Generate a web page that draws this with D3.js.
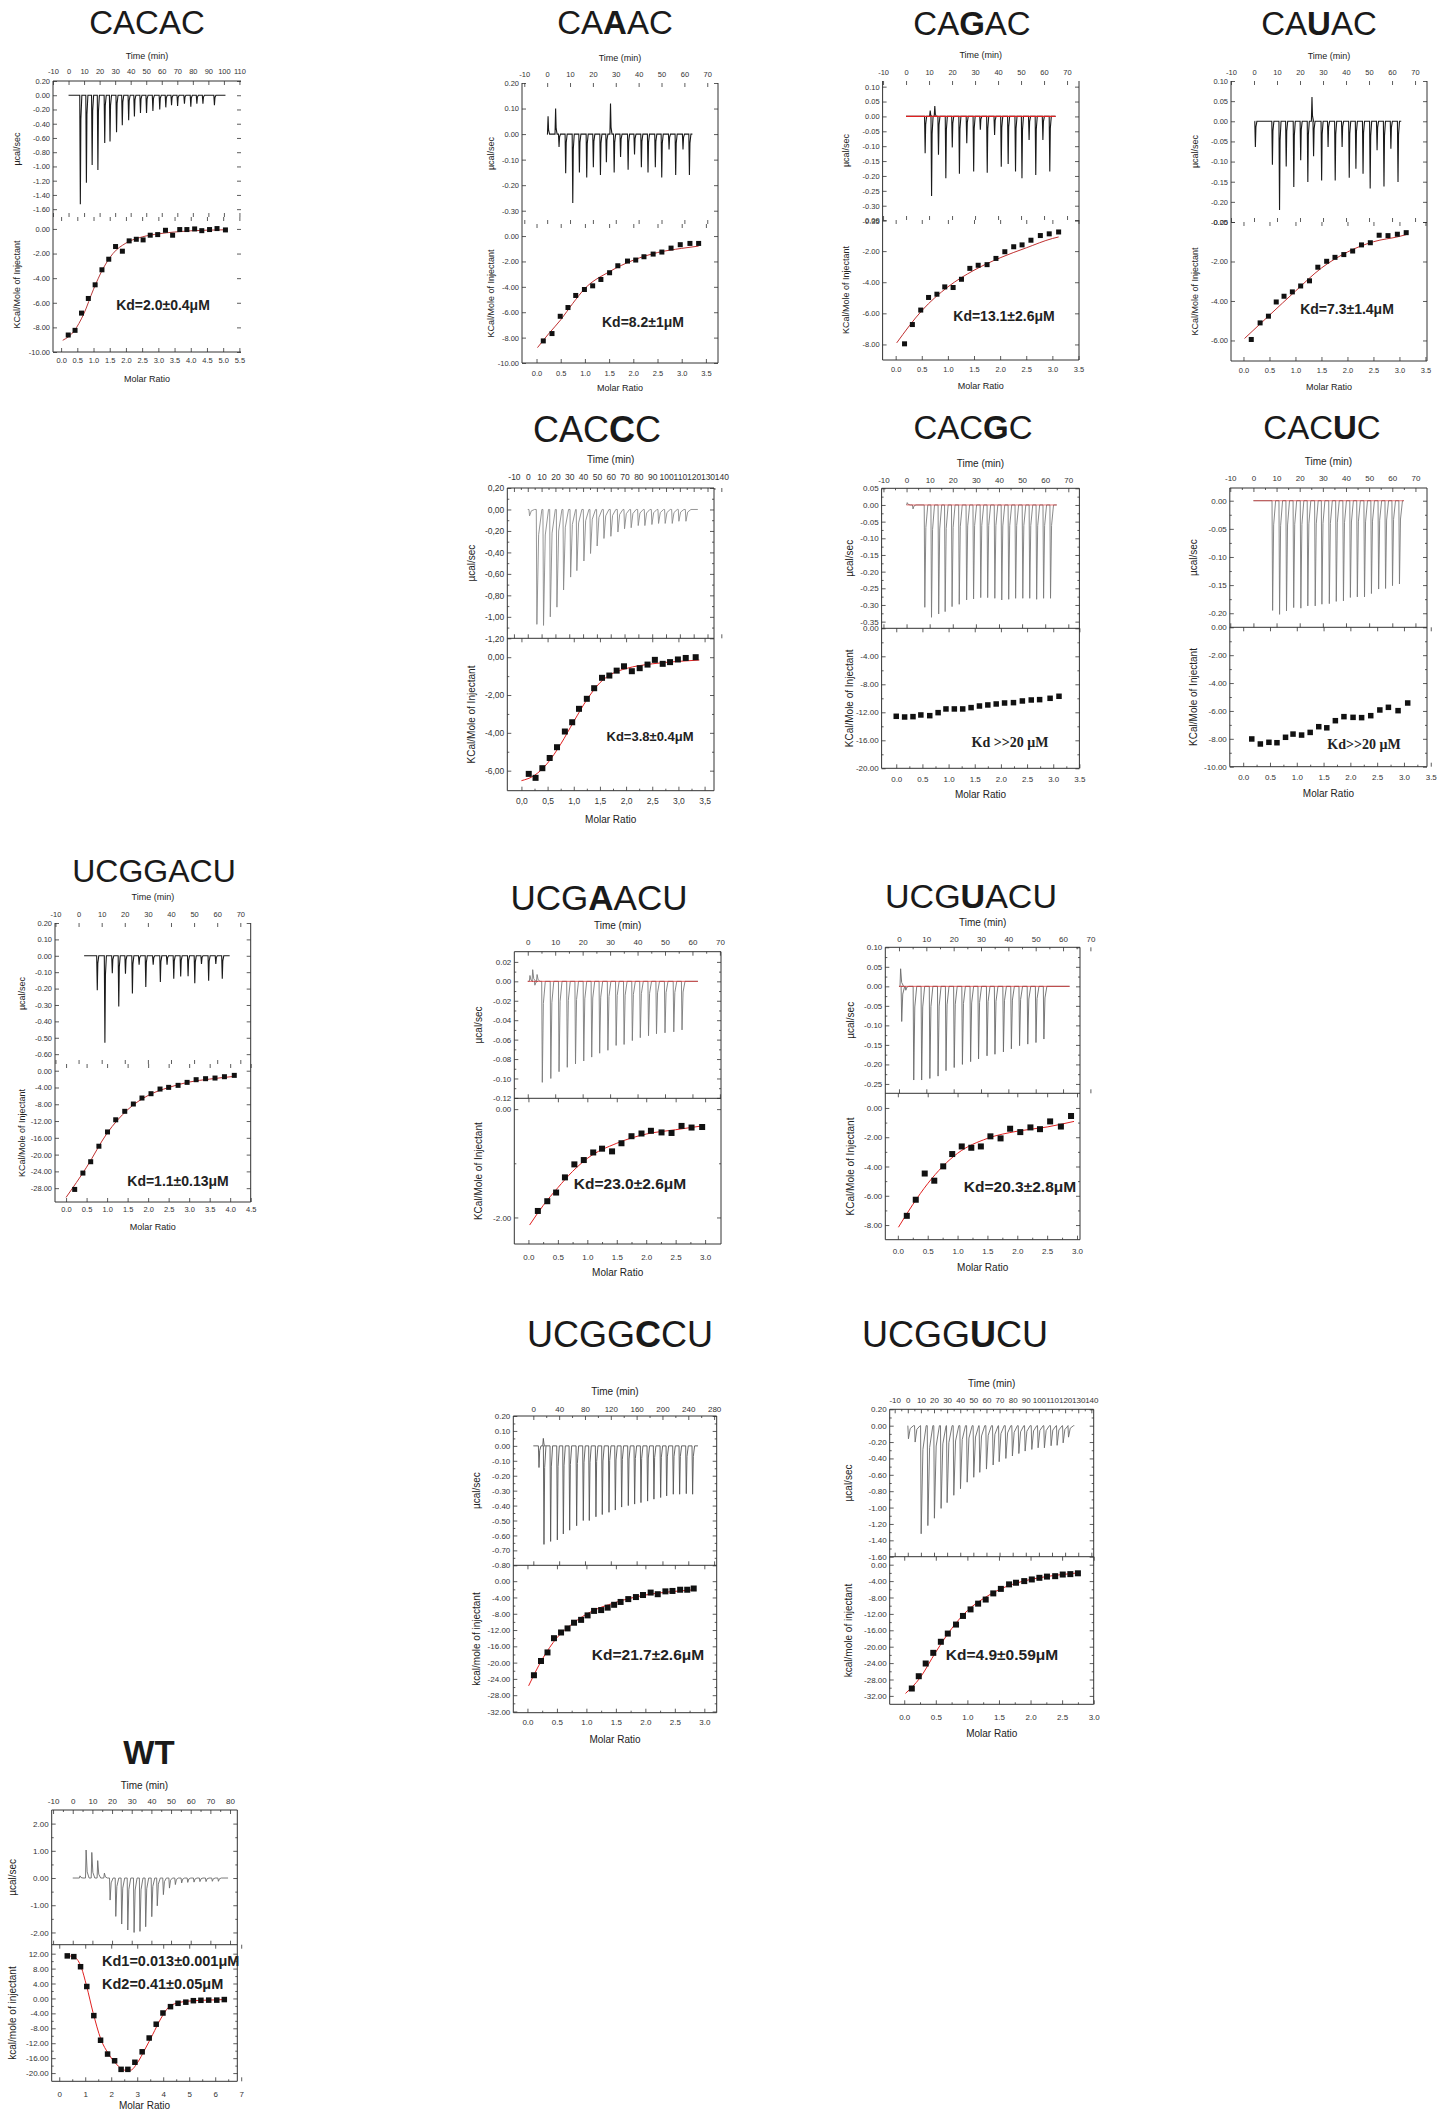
<!DOCTYPE html>
<html lang="en">
<head>
<meta charset="utf-8">
<style>
  body { margin: 0; background: #fff; }
  svg { display: block; }
  text { font-family: "Liberation Sans", Arial, sans-serif; fill: #222; }
  .tick line { stroke: #333; }
  .tick text { fill: #333; font-family: "Liberation Sans", Arial, sans-serif; }
</style>
</head>
<body>
<svg id="fig" width="1449" height="2111"></svg>
<script src="https://d3js.org/d3.v7.min.js"></script>
<script>
// ---- values ----
// injT = injection time (min), injQ = peak heat rate (ucal/sec), run = baseline start/end (min)
// ratio/heat = integrated points, fitR/fitH = fitted curve

var cacacInjT = [7.6, 11.5, 15.2, 18.9, 23.3, 26.7, 30.9, 34.6, 38.7, 42.4, 46.3, 50.2, 54.3, 58.7, 62.6, 66.3, 70.2, 74.6, 78.7, 82.6, 86.5, 93.9];
var cacacInjQ = [-1.53, -1.23, -0.98, -1.05, -0.67, -0.65, -0.52, -0.42, -0.35, -0.30, -0.25, -0.25, -0.22, -0.20, -0.17, -0.14, -0.15, -0.12, -0.16, -0.12, -0.12, -0.14];
var cacacRun = [0, 101];
var cacacRatio = [0.22, 0.43, 0.63, 0.84, 1.05, 1.26, 1.47, 1.68, 1.89, 2.10, 2.32, 2.53, 2.75, 2.98, 3.22, 3.44, 3.66, 3.88, 4.12, 4.34, 4.58, 4.81, 5.07];
var cacacHeat = [-8.62, -8.24, -6.84, -5.65, -4.54, -3.32, -2.46, -1.43, -1.81, -0.97, -0.84, -0.89, -0.51, -0.46, -0.11, -0.51, -0.05, -0.05, 0.0, -0.14, -0.05, 0.03, -0.08];
var cacacFitR = [0.05, 0.4, 0.7, 1.0, 1.3, 1.6, 2.0, 2.5, 3.0, 3.5, 4.0, 4.5, 5.07];
var cacacFitH = [-9.05, -8.3, -6.9, -4.9, -3.2, -2.0, -1.15, -0.65, -0.4, -0.25, -0.15, -0.1, -0.07];

var caaacInjT = [0.4, 3.7, 5.2, 8.1, 11.2, 14.1, 17.3, 20.2, 23.3, 25.9, 27.7, 29.3, 32.1, 35.4, 38.2, 41.2, 44.1, 47.3, 50.1, 53.3, 56.2, 59.4, 62.2];
var caaacInjQ = [0.07, 0.10, -0.05, -0.153, -0.27, -0.15, -0.17, -0.13, -0.16, -0.11, 0.12, -0.15, -0.09, -0.14, -0.08, -0.13, -0.15, -0.13, -0.17, -0.06, -0.16, -0.06, -0.16];
var caaacRun = [0.3, 63.5];
var caaacRatio = [0.14, 0.32, 0.49, 0.65, 0.81, 0.99, 1.16, 1.33, 1.51, 1.68, 1.88, 2.05, 2.22, 2.41, 2.59, 2.78, 2.97, 3.17, 3.35];
var caaacHeat = [-8.26, -7.68, -6.32, -5.63, -4.68, -4.21, -3.92, -3.42, -2.89, -2.34, -1.97, -1.89, -1.63, -1.42, -1.26, -0.95, -0.68, -0.58, -0.58];
var caaacFitR = [0.02, 0.25, 0.5, 0.75, 1.0, 1.5, 2.0, 2.5, 3.0, 3.35];
var caaacFitH = [-8.79, -7.7, -6.6, -5.3, -4.13, -2.82, -1.9, -1.3, -0.97, -0.79];

var cagacInjT = [8.3, 10.5, 11.1, 12.5, 14.1, 17.3, 20.1, 23.2, 26.4, 29.4, 32.3, 35.3, 38.5, 41.4, 44.4, 47.6, 50.4, 53.5, 56.4, 59.5, 62.5];
var cagacInjQ = [-0.124, 0.02, -0.267, 0.035, -0.129, -0.208, -0.104, -0.193, -0.09, -0.185, -0.045, -0.189, -0.062, -0.169, -0.16, -0.185, -0.208, -0.079, -0.197, -0.079, -0.185];
var cagacRun = [0, 65];
var cagacRatio = [0.17, 0.32, 0.48, 0.63, 0.79, 0.94, 1.10, 1.26, 1.42, 1.58, 1.75, 1.92, 2.09, 2.26, 2.42, 2.59, 2.77, 2.94, 3.12];
var cagacHeat = [-7.96, -6.72, -5.79, -4.98, -4.77, -4.30, -4.34, -3.81, -3.11, -2.91, -2.87, -2.47, -2.04, -1.72, -1.60, -1.30, -1.00, -0.89, -0.77];
var cagacFitR = [0.02, 0.5, 1.0, 1.5, 2.0, 2.5, 3.0, 3.12];
var cagacFitH = [-7.9, -5.83, -4.3, -3.23, -2.43, -1.79, -1.19, -1.09];

var cauacInjT = [0.6, 8.0, 11.1, 14.0, 17.3, 20.3, 23.4, 25.2, 25.9, 29.4, 32.2, 35.3, 38.3, 41.4, 44.3, 47.4, 50.5, 53.5, 56.5, 59.5, 62.6];
var cauacInjQ = [-0.064, -0.108, -0.22, -0.112, -0.163, -0.097, -0.151, 0.06, -0.087, -0.147, -0.064, -0.147, -0.064, -0.14, -0.118, -0.13, -0.167, -0.072, -0.162, -0.068, -0.151];
var cauacRun = [0.3, 64];
var cauacRatio = [0.15, 0.32, 0.48, 0.63, 0.78, 0.94, 1.10, 1.27, 1.43, 1.60, 1.76, 1.93, 2.10, 2.27, 2.44, 2.61, 2.78, 2.96, 3.13];
var cauacHeat = [-5.95, -5.11, -4.77, -4.05, -3.76, -3.54, -3.24, -2.98, -2.29, -1.99, -1.79, -1.65, -1.47, -1.16, -1.05, -0.67, -0.69, -0.62, -0.54];
var cauacFitR = [0.02, 0.5, 1.0, 1.5, 2.0, 2.5, 3.0, 3.13];
var cauacFitH = [-5.9, -4.72, -3.5, -2.33, -1.52, -1.0, -0.73, -0.64];

var cacccInjT = [1.3, 6.6, 11.4, 16.3, 21.1, 25.9, 31.0, 35.5, 40.6, 45.4, 50.2, 55.1, 60.1, 65.2, 70.0, 74.8, 79.9, 84.7, 89.8, 94.6, 99.4, 104.5, 109.3, 114.4];
var cacccInjQ = [-0.06, -1.07, -1.08, -1.00, -0.91, -0.75, -0.63, -0.57, -0.48, -0.41, -0.34, -0.27, -0.25, -0.21, -0.18, -0.17, -0.15, -0.15, -0.14, -0.13, -0.13, -0.13, -0.11, -0.11];
var cacccRun = [0, 123];
var cacccRatio = [0.14, 0.27, 0.40, 0.54, 0.68, 0.83, 0.97, 1.10, 1.25, 1.39, 1.54, 1.68, 1.82, 1.96, 2.11, 2.26, 2.41, 2.55, 2.70, 2.84, 2.99, 3.14, 3.33];
var cacccHeat = [-6.17, -6.38, -5.87, -5.33, -4.76, -3.93, -3.44, -2.73, -2.20, -1.64, -1.09, -0.97, -0.71, -0.48, -0.74, -0.58, -0.39, -0.14, -0.35, -0.26, -0.12, -0.04, 0.0];
var cacccFitR = [0.0, 0.25, 0.5, 0.75, 1.0, 1.25, 1.5, 1.75, 2.0, 2.5, 3.0, 3.4];
var cacccFitH = [-6.53, -6.25, -5.6, -4.6, -3.4, -2.25, -1.35, -0.85, -0.6, -0.35, -0.22, -0.15];

var cacgcInjT = [0.3, 2.8, 7.9, 10.8, 13.9, 16.7, 19.7, 22.8, 26.0, 29.0, 32.1, 35.1, 38.2, 41.2, 44.2, 47.2, 50.3, 53.3, 56.3, 59.3, 62.3];
var cacgcInjQ = [0.007, -0.012, -0.307, -0.337, -0.327, -0.32, -0.305, -0.298, -0.285, -0.282, -0.278, -0.278, -0.28, -0.285, -0.283, -0.28, -0.28, -0.28, -0.283, -0.28, -0.28];
var cacgcRun = [0, 65];
var cacgcRatio = [0.0, 0.16, 0.32, 0.47, 0.64, 0.80, 0.95, 1.11, 1.27, 1.43, 1.59, 1.75, 1.91, 2.07, 2.24, 2.41, 2.58, 2.74, 2.94, 3.11];
var cacgcHeat = [-12.57, -12.67, -12.62, -12.38, -12.48, -12.05, -11.52, -11.52, -11.52, -11.33, -11.10, -10.95, -10.81, -10.67, -10.62, -10.38, -10.24, -10.19, -10.0, -9.71];

var cacucInjT = [8.3, 11.3, 14.3, 17.4, 20.5, 23.5, 26.7, 29.6, 32.8, 35.8, 38.9, 41.9, 44.9, 48.0, 51.0, 54.1, 57.1, 60.1, 63.1];
var cacucInjQ = [-0.195, -0.202, -0.196, -0.19, -0.191, -0.187, -0.187, -0.184, -0.183, -0.179, -0.178, -0.172, -0.171, -0.171, -0.165, -0.157, -0.156, -0.151, -0.148];
var cacucRun = [0, 65];
var cacucRatio = [0.16, 0.32, 0.48, 0.63, 0.79, 0.93, 1.09, 1.25, 1.41, 1.56, 1.72, 1.88, 2.05, 2.21, 2.38, 2.55, 2.71, 2.89, 3.07];
var cacucHeat = [-8.01, -8.37, -8.25, -8.28, -7.89, -7.66, -7.73, -7.54, -7.13, -7.21, -6.70, -6.41, -6.46, -6.48, -6.34, -5.93, -5.74, -5.98, -5.43];

var ucggacuInjT = [8.1, 11.4, 14.6, 17.4, 20.3, 23.3, 26.2, 29.1, 32.3, 35.4, 38.3, 41.2, 44.2, 47.4, 50.3, 53.2, 56.3, 59.4, 62.2];
var ucggacuInjQ = [-0.21, -0.53, -0.106, -0.31, -0.11, -0.23, -0.055, -0.19, -0.055, -0.16, -0.055, -0.14, -0.126, -0.124, -0.167, -0.05, -0.152, -0.05, -0.14];
var ucggacuRun = [2.4, 65.4];
var ucggacuRatio = [0.21, 0.41, 0.60, 0.80, 1.01, 1.21, 1.43, 1.64, 1.85, 2.07, 2.29, 2.50, 2.73, 2.95, 3.17, 3.40, 3.63, 3.86, 4.10];
var ucggacuHeat = [-28.3, -24.4, -21.7, -18.0, -14.6, -11.7, -9.68, -7.94, -6.51, -5.48, -4.37, -3.97, -3.49, -2.78, -2.14, -1.90, -1.75, -1.43, -1.11];
var ucggacuFitR = [0.0, 0.5, 1.0, 1.5, 2.0, 2.5, 3.0, 3.5, 4.1];
var ucggacuFitH = [-30.2, -23.0, -14.9, -9.3, -5.9, -4.0, -2.7, -2.0, -1.35];

var ucgaacuInjT = [0.8, 1.8, 2.6, 3.4, 5.3, 8.4, 11.4, 14.4, 17.4, 20.4, 23.3, 26.2, 29.2, 32.2, 35.1, 38.1, 41.0, 44.0, 46.9, 50.0, 53.2, 56.2];
var ucgaacuInjQ = [0.006, 0.012, -0.004, 0.007, -0.104, -0.10, -0.093, -0.0885, -0.085, -0.082, -0.078, -0.074, -0.071, -0.066, -0.065, -0.061, -0.058, -0.056, -0.054, -0.053, -0.052, -0.05];
var ucgaacuRun = [0, 62];
var ucgaacuRatio = [0.16, 0.32, 0.47, 0.62, 0.78, 0.94, 1.10, 1.25, 1.42, 1.58, 1.75, 1.92, 2.08, 2.26, 2.43, 2.60, 2.77, 2.95];
var ucgaacuHeat = [-1.88, -1.70, -1.54, -1.26, -1.02, -0.94, -0.80, -0.73, -0.78, -0.63, -0.50, -0.45, -0.40, -0.43, -0.44, -0.31, -0.34, -0.33];
var ucgaacuFitR = [0.02, 0.25, 0.5, 0.75, 1.0, 1.5, 2.0, 2.5, 2.95];
var ucgaacuFitH = [-2.14, -1.78, -1.45, -1.15, -0.91, -0.63, -0.46, -0.38, -0.31];

var ucguacuInjT = [0.6, 1.0, 2.5, 5.4, 8.3, 11.3, 14.3, 17.2, 20.2, 23.2, 26.2, 29.1, 32.2, 35.1, 38.2, 41.1, 44.1, 47.1, 50.1, 53.0];
var ucguacuInjQ = [0.045, -0.09, -0.01, -0.24, -0.24, -0.236, -0.23, -0.216, -0.208, -0.2, -0.193, -0.186, -0.178, -0.174, -0.168, -0.16, -0.152, -0.148, -0.144, -0.135];
var ucguacuRun = [0, 62.4];
var ucguacuRatio = [0.15, 0.30, 0.45, 0.61, 0.76, 0.91, 1.07, 1.23, 1.39, 1.55, 1.72, 1.88, 2.05, 2.22, 2.38, 2.55, 2.73, 2.90];
var ucguacuHeat = [-7.37, -6.27, -4.48, -4.97, -3.99, -3.15, -2.63, -2.72, -2.63, -1.94, -2.08, -1.42, -1.65, -1.33, -1.45, -0.92, -1.27, -0.55];
var ucguacuFitR = [0.01, 0.25, 0.5, 0.75, 1.0, 1.5, 2.0, 2.5, 2.95];
var ucguacuFitH = [-8.15, -6.6, -5.17, -4.0, -3.1, -2.08, -1.59, -1.3, -0.92];

var ucggccuInjT = [8.8, 15.5, 16.5, 26.8, 37.2, 46.5, 56.3, 67.1, 77.4, 86.7, 97.0, 106.8, 117.2, 127.0, 136.8, 147.1, 156.9, 166.7, 177.0, 186.8, 197.2, 206.5, 216.8, 226.6, 236.9, 246.7];
var ucggccuInjQ = [-0.145, 0.05, -0.66, -0.64, -0.63, -0.59, -0.565, -0.535, -0.5, -0.5, -0.475, -0.46, -0.445, -0.43, -0.41, -0.40, -0.39, -0.38, -0.37, -0.357, -0.346, -0.335, -0.324, -0.324, -0.32, -0.324];
var ucggccuRun = [0, 255];
var ucggccuRatio = [0.11, 0.23, 0.34, 0.45, 0.57, 0.68, 0.79, 0.91, 1.02, 1.13, 1.25, 1.36, 1.47, 1.58, 1.71, 1.84, 1.96, 2.09, 2.21, 2.34, 2.46, 2.59, 2.71, 2.82];
var ucggccuHeat = [-23.1, -19.6, -17.5, -14.0, -12.6, -11.6, -10.2, -9.5, -8.4, -7.3, -7.1, -6.5, -5.8, -5.1, -4.4, -3.9, -3.4, -2.8, -3.2, -2.5, -2.4, -2.1, -2.1, -1.8];
var ucggccuFitR = [0.02, 0.25, 0.5, 0.75, 1.0, 1.5, 2.0, 2.5, 2.85];
var ucggccuFitH = [-25.7, -19.2, -13.9, -10.6, -8.1, -5.2, -3.4, -2.5, -2.1];

var ucggucuInjT = [0.5, 5.6, 10.2, 15.3, 20.3, 25.4, 30.0, 35.1, 40.2, 45.3, 50.3, 54.9, 60.0, 65.1, 69.7, 74.8, 79.8, 84.7, 89.5, 94.6, 99.4, 104.2, 109.3, 113.9, 118.5, 122.6];
var ucggucuInjQ = [-0.16, -0.20, -1.32, -1.22, -1.13, -1.01, -0.94, -0.85, -0.77, -0.69, -0.63, -0.57, -0.53, -0.48, -0.44, -0.40, -0.37, -0.34, -0.31, -0.29, -0.27, -0.27, -0.245, -0.24, -0.21, -0.14];
var ucggucuRun = [0, 127];
var ucggucuRatio = [0.12, 0.23, 0.34, 0.46, 0.58, 0.69, 0.82, 0.93, 1.05, 1.17, 1.29, 1.41, 1.53, 1.66, 1.77, 1.90, 2.02, 2.14, 2.26, 2.39, 2.51, 2.63, 2.75];
var ucggucuHeat = [-30.2, -27.2, -24.1, -21.5, -18.8, -16.8, -14.6, -12.5, -10.9, -9.5, -8.5, -7.0, -5.9, -4.8, -4.4, -4.0, -3.6, -3.2, -2.9, -2.8, -2.4, -2.3, -2.1];
var ucggucuFitR = [0.02, 0.25, 0.5, 0.75, 1.0, 1.25, 1.5, 1.75, 2.0, 2.25, 2.5, 2.75];
var ucggucuFitH = [-31.4, -27.6, -21.3, -15.6, -11.2, -8.3, -6.1, -4.6, -3.6, -2.9, -2.4, -2.0];

var wtInjT = [3.7, 6.8, 9.7, 12.7, 16.1, 19.0, 21.9, 24.9, 28.0, 31.2, 34.2, 37.1, 40.2, 43.0, 46.1, 49.2, 52.2, 55.4, 58.5, 61.7, 64.7, 67.8, 71.0, 74.1];
var wtInjQ = [0.08, 1.03, 0.94, 0.64, 0.18, -0.81, -1.41, -1.69, -1.91, -2.0, -1.96, -1.79, -1.42, -1.02, -0.61, -0.37, -0.24, -0.18, -0.16, -0.15, -0.13, -0.13, -0.12, -0.12];
var wtRun = [0, 79];
var wtRatio = [0.31, 0.56, 0.82, 1.06, 1.33, 1.59, 1.86, 2.13, 2.38, 2.64, 2.91, 3.19, 3.46, 3.73, 3.99, 4.28, 4.57, 4.87, 5.16, 5.45, 5.75, 6.06, 6.35];
var wtHeat = [11.4, 11.2, 8.5, 3.2, -4.6, -11.2, -14.9, -16.7, -19.0, -19.0, -17.1, -14.3, -10.6, -6.9, -3.9, -2.2, -1.3, -1.0, -0.6, -0.5, -0.45, -0.45, -0.3];
var wtFitR = [0.28, 0.6, 0.85, 1.05, 1.3, 1.6, 1.9, 2.2, 2.5, 2.75, 3.0, 3.3, 3.6, 3.9, 4.2, 4.5, 5.0, 5.5, 6.35];
var wtFitH = [11.5, 11.0, 8.3, 3.4, -3.75, -10.9, -14.9, -17.6, -19.2, -19.2, -17.3, -13.6, -9.6, -5.5, -2.4, -1.3, -0.7, -0.5, -0.3];

// ---- drawing ----
var svg = d3.select('#fig');
var dot = d3.formatLocale({decimal: '.', thousands: ',', grouping: [3], currency: ['', ''], minus: '-'});
var comma = d3.formatLocale({decimal: ',', thousands: '.', grouping: [3], currency: ['', ''], minus: '-'});

function steps(a, b, s) {
  var out = [], n = Math.round((b - a) / s);
  for (var i = 0; i <= n; i++) out.push(+(a + i * s).toFixed(4));
  return out;
}
function mids(v) {
  var out = [];
  for (var i = 1; i < v.length; i++) out.push((v[i - 1] + v[i]) / 2);
  return out;
}

function drawPanel(p) {
  var g = svg.append('g');
  var loc = p.comma ? comma : dot;
  var xT = d3.scaleLinear().domain(p.tDom).range([p.x0, p.x1]);
  var xR = d3.scaleLinear().domain(p.rDom).range([p.x0, p.x1]);
  var yQ = d3.scaleLinear().domain(p.qDom).range([p.yDiv, p.yTop]);
  var yH = d3.scaleLinear().domain(p.hDom).range([p.yBot, p.yDiv]);
  var fq = loc.format('.2f'), fh = loc.format('.2f'), fr = loc.format(p.fr || '.1f');
  var fs = p.fs || 8.5;
  var none = function() { return ''; };

  // title, one letter bold
  var title = g.append('text')
    .attr('x', p.title[0]).attr('y', p.title[1] + p.title[2] * 0.36)
    .attr('text-anchor', 'middle').attr('font-size', p.title[2]).style('fill', '#1a1a1a');
  p.name.forEach(function(s, i) {
    title.append('tspan').attr('font-weight', (p.boldAll || i % 2) ? 'bold' : 'normal').text(s);
  });

  function ax(axis, tr) {
    var a = g.append('g').attr('transform', tr).call(axis);
    a.select('.domain').remove();
    a.selectAll('text').attr('font-size', fs);
    a.selectAll('line').attr('stroke-width', 0.8);
    return a;
  }
  var tT = p.tTicks, qT = p.qTicks, hT = p.hTicks, rT = p.rTicks;
  ax(d3.axisTop(xT).tickValues(tT).tickSizeInner(-4).tickSizeOuter(0).tickPadding(p.tPad).tickFormat(dot.format('d')), 'translate(0,' + p.yTop + ')');
  ax(d3.axisBottom(xT).tickValues(tT).tickSizeInner(-4).tickSizeOuter(0).tickFormat(none), 'translate(0,' + p.yDiv + ')');
  ax(d3.axisLeft(yQ).tickValues(qT).tickSizeInner(-4).tickSizeOuter(0).tickPadding(3).tickFormat(fq), 'translate(' + p.x0 + ',0)');
  ax(d3.axisRight(yQ).tickValues(qT).tickSizeInner(-4).tickSizeOuter(0).tickFormat(none), 'translate(' + p.x1 + ',0)');
  ax(d3.axisLeft(yH).tickValues(hT).tickSizeInner(-4).tickSizeOuter(0).tickPadding(3).tickFormat(fh), 'translate(' + p.x0 + ',0)');
  ax(d3.axisRight(yH).tickValues(hT).tickSizeInner(-4).tickSizeOuter(0).tickFormat(none), 'translate(' + p.x1 + ',0)');
  ax(d3.axisBottom(xR).tickValues(rT).tickSizeInner(-4).tickSizeOuter(0).tickPadding(p.rPad).tickFormat(fr), 'translate(0,' + p.yBot + ')');
  ax(d3.axisTop(xR).tickValues(rT).tickSizeInner(-4).tickSizeOuter(0).tickFormat(none), 'translate(0,' + p.yDiv + ')');
  if (p.minor) {
    ax(d3.axisTop(xT).tickValues(mids(tT)).tickSizeInner(-2).tickSizeOuter(0).tickFormat(none), 'translate(0,' + p.yTop + ')');
    ax(d3.axisLeft(yQ).tickValues(mids(qT)).tickSizeInner(-2).tickSizeOuter(0).tickFormat(none), 'translate(' + p.x0 + ',0)');
    ax(d3.axisRight(yQ).tickValues(mids(qT)).tickSizeInner(-2).tickSizeOuter(0).tickFormat(none), 'translate(' + p.x1 + ',0)');
    ax(d3.axisLeft(yH).tickValues(mids(hT)).tickSizeInner(-2).tickSizeOuter(0).tickFormat(none), 'translate(' + p.x0 + ',0)');
    ax(d3.axisRight(yH).tickValues(mids(hT)).tickSizeInner(-2).tickSizeOuter(0).tickFormat(none), 'translate(' + p.x1 + ',0)');
    ax(d3.axisBottom(xR).tickValues(mids(rT)).tickSizeInner(-2).tickSizeOuter(0).tickFormat(none), 'translate(0,' + p.yBot + ')');
  }

  // frame
  var sides = p.sides || 'ltrbd';
  var fr1 = g.append('g').attr('stroke', '#333').attr('stroke-width', 1);
  function seg(x1, y1, x2, y2) { fr1.append('line').attr('x1', x1).attr('y1', y1).attr('x2', x2).attr('y2', y2); }
  if (sides.indexOf('l') >= 0) seg(p.x0, p.yTop, p.x0, p.yBot);
  if (sides.indexOf('r') >= 0) seg(p.x1, p.yTop, p.x1, p.yBot);
  if (sides.indexOf('t') >= 0) seg(p.x0, p.yTop, p.x1, p.yTop);
  if (sides.indexOf('b') >= 0) seg(p.x0, p.yBot, p.x1, p.yBot);
  if (sides.indexOf('d') >= 0) seg(p.x0, p.yDiv, p.x1, p.yDiv);

  // raw thermogram
  var base = yQ(0);
  var pts = [[xT(p.run[0]), base]];
  p.injT.forEach(function(t, i) {
    var x = xT(t), y = yQ(p.injQ[i]);
    pts.push([x - 0.6, base], [x, y], [x + p.pw * 0.35, base + (y - base) * 0.22], [x + p.pw, base]);
  });
  pts.push([xT(p.run[1]), base]);
  g.append('path').attr('d', d3.line()(pts))
    .attr('fill', 'none').attr('stroke', p.tc).attr('stroke-width', p.tw || 0.9);
  if (p.redBase) {
    g.append('line').attr('x1', xT(p.run[0])).attr('x2', xT(p.run[1]))
      .attr('y1', base).attr('y2', base).attr('stroke', '#e02020').attr('stroke-width', p.redBase);
  }

  // fitted curve
  if (p.fitR) {
    g.append('path').datum(d3.zip(p.fitR, p.fitH))
      .attr('d', d3.line().x(function(d) { return xR(d[0]); }).y(function(d) { return yH(d[1]); }).curve(d3.curveMonotoneX))
      .attr('fill', 'none').attr('stroke', p.fc || '#e02020').attr('stroke-width', 1);
  }

  // integrated heats
  var ms = p.ms;
  g.selectAll('rect.pt').data(d3.zip(p.ratio, p.heat)).enter().append('rect')
    .attr('class', 'pt')
    .attr('x', function(d) { return xR(d[0]) - ms / 2; })
    .attr('y', function(d) { return yH(d[1]) - ms / 2; })
    .attr('width', ms).attr('height', ms).attr('fill', '#111');

  // axis titles
  var lf = p.lf || 10;
  var cx = (p.x0 + p.x1) / 2;
  g.append('text').attr('x', cx).attr('y', p.timeY + lf * 0.36).attr('text-anchor', 'middle').attr('font-size', lf).text('Time (min)');
  g.append('text').attr('x', cx).attr('y', p.molY + lf * 0.36).attr('text-anchor', 'middle').attr('font-size', lf).text('Molar Ratio');
  var ly1 = (p.yTop + p.yDiv) / 2, ly2 = (p.yDiv + p.yBot) / 2;
  g.append('text').attr('transform', 'translate(' + (p.ylx + lf * 0.36) + ',' + ly1 + ') rotate(-90)')
    .attr('text-anchor', 'middle').attr('font-size', lf).text('\u00b5cal/sec');
  g.append('text').attr('transform', 'translate(' + (p.ylx + lf * 0.36) + ',' + ly2 + ') rotate(-90)')
    .attr('text-anchor', 'middle').attr('font-size', lf).text(p.hLabel || 'KCal/Mole of Injectant');

  // Kd annotations
  p.kd.forEach(function(k) {
    g.append('text').attr('x', k[0]).attr('y', k[1] + k[3] * 0.36)
      .attr('text-anchor', k[4] || 'middle').attr('font-size', k[3]).attr('font-weight', 'bold')
      .style('font-family', p.kdSerif ? '"Liberation Serif", "Times New Roman", serif' : null)
      .text(k[2]);
  });
}

var panels = [
  { name: ['CACAC'], title: [147, 22, 33],
    x0: 53, x1: 241, yTop: 81, yDiv: 217, yBot: 352,
    tDom: [-10, 111], qDom: [-1.71, 0.2], hDom: [-10, 0.97], rDom: [-0.25, 5.55],
    tTicks: steps(-10, 110, 10), qTicks: steps(-1.6, 0.2, 0.2), hTicks: steps(-10, 0, 2), rTicks: steps(0, 5.5, 0.5),
    tPad: 7, rPad: 6, fs: 7.5, lf: 9, sides: 'ltb',
    injT: cacacInjT, injQ: cacacInjQ, run: cacacRun, pw: 1.5, tc: '#1a1a1a', tw: 1.1,
    ratio: cacacRatio, heat: cacacHeat, fitR: cacacFitR, fitH: cacacFitH, fc: '#b83a3a', ms: 5,
    timeY: 56, molY: 379, ylx: 17, kd: [[163, 305, 'Kd=2.0\u00b10.4\u03bcM', 14]] },
  { name: ['CA', 'A', 'AC'], title: [615, 22, 33],
    x0: 522, x1: 718, yTop: 83, yDiv: 224, yBot: 363,
    tDom: [-11, 74.7], qDom: [-0.352, 0.2], hDom: [-10, 0.95], rDom: [-0.30, 3.75],
    tTicks: steps(-10, 70, 10), qTicks: steps(-0.3, 0.2, 0.1), hTicks: steps(-10, 0, 2), rTicks: steps(0, 3.5, 0.5),
    tPad: 6, rPad: 7.5, fs: 7.5, lf: 9, sides: 'lrb',
    injT: caaacInjT, injQ: caaacInjQ, run: caaacRun, pw: 1.5, tc: '#1a1a1a', tw: 1.1,
    ratio: caaacRatio, heat: caaacHeat, fitR: caaacFitR, fitH: caaacFitH, fc: '#c03030', ms: 5,
    timeY: 58, molY: 388, ylx: 491, kd: [[643, 322, 'Kd=8.2\u00b11\u03bcM', 14]] },
  { name: ['CA', 'G', 'AC'], title: [972, 23, 33],
    x0: 882.6, x1: 1079, yTop: 81, yDiv: 220, yBot: 360,
    tDom: [-10.2, 75.2], qDom: [-0.348, 0.119], hDom: [-9, 0], rDom: [-0.25, 3.51],
    tTicks: steps(-10, 70, 10), qTicks: steps(-0.35, 0.1, 0.05), hTicks: steps(-8, 0, 2), rTicks: steps(0, 3.5, 0.5),
    tPad: 6, rPad: 7, fs: 7.5, lf: 9, sides: 'lrb',
    injT: cagacInjT, injQ: cagacInjQ, run: cagacRun, pw: 1.5, tc: '#1a1a1a', tw: 1.1, redBase: 1.2,
    ratio: cagacRatio, heat: cagacHeat, fitR: cagacFitR, fitH: cagacFitH, fc: '#c03030', ms: 5,
    timeY: 55, molY: 386, ylx: 846, kd: [[1004, 316, 'Kd=13.1\u00b12.6\u03bcM', 14]] },
  { name: ['CA', 'U', 'AC'], title: [1319, 23, 33],
    x0: 1231, x1: 1427, yTop: 81, yDiv: 222, yBot: 361,
    tDom: [-10, 75.2], qDom: [-0.25, 0.10], hDom: [-7.04, 0], rDom: [-0.24, 3.53],
    tTicks: steps(-10, 70, 10), qTicks: steps(-0.25, 0.1, 0.05), hTicks: steps(-6, 0, 2), rTicks: steps(0, 3.5, 0.5),
    tPad: 6, rPad: 6.7, fs: 7.5, lf: 9, sides: 'lrb',
    injT: cauacInjT, injQ: cauacInjQ, run: cauacRun, pw: 1.5, tc: '#1a1a1a', tw: 1.1,
    ratio: cauacRatio, heat: cauacHeat, fitR: cauacFitR, fitH: cauacFitH, fc: '#c03030', ms: 5,
    timeY: 56, molY: 387, ylx: 1195, kd: [[1347, 309, 'Kd=7.3\u00b11.4\u03bcM', 14]] },
  { name: ['CAC', 'C', 'C'], title: [597, 429, 36], comma: true, minor: true,
    x0: 507.3, x1: 714, yTop: 488, yDiv: 638.3, yBot: 790.7,
    tDom: [-14.8, 134.7], qDom: [-1.2, 0.2], hDom: [-7.06, 1.0], rDom: [-0.27, 3.68],
    tTicks: steps(-10, 140, 10), qTicks: steps(-1.2, 0.2, 0.2), hTicks: steps(-6, 0, 2), rTicks: steps(0, 3.5, 0.5),
    tPad: 8, rPad: 7, fs: 8.5,
    injT: cacccInjT, injQ: cacccInjQ, run: cacccRun, pw: 5, tc: '#8a8a8a',
    ratio: cacccRatio, heat: cacccHeat, fitR: cacccFitR, fitH: cacccFitH, ms: 6,
    timeY: 459, molY: 819, ylx: 471, kd: [[650, 736, 'Kd=3.8\u00b10.4\u03bcM', 13]] },
  { name: ['CAC', 'G', 'C'], title: [973, 427, 33], minor: true,
    x0: 881.6, x1: 1079.4, yTop: 488.3, yDiv: 628.3, yBot: 768.3,
    tDom: [-10.8, 74.8], qDom: [-0.37, 0.05], hDom: [-20, 0], rDom: [-0.28, 3.5],
    tTicks: steps(-10, 70, 10), qTicks: steps(-0.35, 0.05, 0.05), hTicks: steps(-20, 0, 4), rTicks: steps(0, 3.5, 0.5),
    tPad: 5, rPad: 7.7, fs: 8,
    injT: cacgcInjT, injQ: cacgcInjQ, run: cacgcRun, pw: 3, tc: '#7a7a7a', redBase: 0.6,
    ratio: cacgcRatio, heat: cacgcHeat, ms: 5.5,
    timeY: 463, molY: 794, ylx: 849, kdSerif: true, kd: [[1010, 742, 'Kd >>20 \u03bcM', 14]] },
  { name: ['CAC', 'U', 'C'], title: [1322, 427, 33], minor: true,
    x0: 1229.8, x1: 1427, yTop: 488, yDiv: 627.3, yBot: 766.7,
    tDom: [-10.2, 75], qDom: [-0.225, 0.0226], hDom: [-10, 0], rDom: [-0.25, 3.43],
    tTicks: steps(-10, 70, 10), qTicks: steps(-0.2, 0, 0.05), hTicks: steps(-10, 0, 2), rTicks: steps(0, 3.5, 0.5),
    tPad: 7, rPad: 7.6, fs: 8,
    injT: cacucInjT, injQ: cacucInjQ, run: cacucRun, pw: 3, tc: '#7a7a7a', redBase: 0.6,
    ratio: cacucRatio, heat: cacucHeat, ms: 5.5,
    timeY: 461, molY: 793, ylx: 1193.5, kdSerif: true, kd: [[1364, 744, 'Kd>>20 \u03bcM', 14]] },
  { name: ['UCGGACU'], title: [154, 870, 32],
    x0: 55, x1: 250.7, yTop: 923, yDiv: 1064, yBot: 1202,
    tDom: [-10.2, 74.5], qDom: [-0.66, 0.2], hDom: [-31.3, 1.6], rDom: [-0.27, 4.5],
    tTicks: steps(-10, 70, 10), qTicks: steps(-0.6, 0.2, 0.1), hTicks: steps(-28, 0, 4), rTicks: steps(0, 4.5, 0.5),
    tPad: 6, rPad: 4.7, fs: 7.5, lf: 9, sides: 'lrb',
    injT: ucggacuInjT, injQ: ucggacuInjQ, run: ucggacuRun, pw: 1.5, tc: '#1a1a1a', tw: 1.1,
    ratio: ucggacuRatio, heat: ucggacuHeat, fitR: ucggacuFitR, fitH: ucggacuFitH, fc: '#c03030', ms: 5,
    timeY: 897, molY: 1227, ylx: 22, kd: [[178, 1181, 'Kd=1.1\u00b10.13\u03bcM', 14]] },
  { name: ['UCG', 'A', 'ACU'], title: [599, 897, 35], minor: true,
    x0: 514.3, x1: 721, yTop: 951.7, yDiv: 1098.3, yBot: 1244,
    tDom: [-4.9, 70.4], qDom: [-0.1204, 0.0305], hDom: [-2.49, 0.2], rDom: [-0.24, 3.27],
    tTicks: steps(0, 70, 10), qTicks: steps(-0.12, 0.02, 0.02), hTicks: [-2, 0], rTicks: steps(0, 3, 0.5),
    tPad: 6.7, rPad: 10, fs: 8,
    injT: ucgaacuInjT, injQ: ucgaacuInjQ, run: ucgaacuRun, pw: 3, tc: '#7a7a7a', redBase: 0.7,
    ratio: ucgaacuRatio, heat: ucgaacuHeat, fitR: ucgaacuFitR, fitH: ucgaacuFitH, ms: 6,
    timeY: 925, molY: 1272, ylx: 478, kd: [[630, 1183, 'Kd=23.0\u00b12.6\u03bcM', 15.5]] },
  { name: ['UCG', 'U', 'ACU'], title: [971, 896, 34], minor: true,
    x0: 885.3, x1: 1080, yTop: 947.3, yDiv: 1093.3, yBot: 1239.7,
    tDom: [-5, 66.2], qDom: [-0.274, 0.10], hDom: [-9, 1], rDom: [-0.21, 3.05],
    tTicks: steps(0, 70, 10), qTicks: steps(-0.25, 0.1, 0.05), hTicks: steps(-8, 0, 2), rTicks: steps(0, 3, 0.5),
    tPad: 5, rPad: 9, fs: 8,
    injT: ucguacuInjT, injQ: ucguacuInjQ, run: ucguacuRun, pw: 3, tc: '#6a6a6a', redBase: 0.7,
    ratio: ucguacuRatio, heat: ucguacuHeat, fitR: ucguacuFitR, fitH: ucguacuFitH, ms: 6,
    timeY: 922, molY: 1267, ylx: 850, kd: [[1020, 1186, 'Kd=20.3\u00b12.8\u03bcM', 15.5]] },
  { name: ['UCGG', 'C', 'CU'], title: [620, 1334, 36], minor: true,
    x0: 513.3, x1: 716.7, yTop: 1416, yDiv: 1565.3, yBot: 1712.7,
    tDom: [-31, 284], qDom: [-0.8, 0.2], hDom: [-32.3, 3.9], rDom: [-0.24, 3.21],
    tTicks: steps(0, 280, 40), qTicks: steps(-0.8, 0.2, 0.1), hTicks: steps(-32, 0, 4), rTicks: steps(0, 3, 0.5),
    tPad: 4, rPad: 7, fs: 8,
    injT: ucggccuInjT, injQ: ucggccuInjQ, run: ucggccuRun, pw: 2, tc: '#555',
    ratio: ucggccuRatio, heat: ucggccuHeat, fitR: ucggccuFitR, fitH: ucggccuFitH, ms: 6,
    hLabel: 'kcal/mole of injectant',
    timeY: 1391, molY: 1739, ylx: 476, kd: [[648, 1654, 'Kd=21.7\u00b12.6\u03bcM', 15.5]] },
  { name: ['UCGG', 'U', 'CU'], title: [955, 1334, 36], minor: true,
    x0: 889.7, x1: 1093.7, yTop: 1409.3, yDiv: 1556.7, yBot: 1704.3,
    tDom: [-13.8, 141.8], qDom: [-1.6, 0.2], hDom: [-34.05, 1.95], rDom: [-0.23, 3.0],
    tTicks: steps(-10, 140, 10), qTicks: steps(-1.6, 0.2, 0.2), hTicks: steps(-32, 0, 4), rTicks: steps(0, 3, 0.5),
    tPad: 6, rPad: 10, fs: 8,
    injT: ucggucuInjT, injQ: ucggucuInjQ, run: ucggucuRun, pw: 5, tc: '#6a6a6a',
    ratio: ucggucuRatio, heat: ucggucuHeat, fitR: ucggucuFitR, fitH: ucggucuFitH, ms: 6,
    hLabel: 'kcal/mole of injectant',
    timeY: 1383, molY: 1733, ylx: 848, kd: [[1002, 1654, 'Kd=4.9\u00b10.59\u03bcM', 15.5]] },
  { name: ['WT'], title: [149, 1752, 33], boldAll: true, minor: true,
    x0: 51.7, x1: 237.3, yTop: 1810, yDiv: 1944.7, yBot: 2081.3,
    tDom: [-10.7, 83.7], qDom: [-2.45, 2.5], hDom: [-22.2, 14.4], rDom: [-0.29, 6.85],
    tTicks: steps(-10, 80, 10), qTicks: steps(-2, 2, 1), hTicks: steps(-20, 12, 4), rTicks: steps(0, 7, 1), fr: 'd',
    tPad: 6, rPad: 9.7, fs: 8,
    injT: wtInjT, injQ: wtInjQ, run: wtRun, pw: 3, tc: '#6a6a6a',
    ratio: wtRatio, heat: wtHeat, fitR: wtFitR, fitH: wtFitH, ms: 5.5,
    hLabel: 'kcal/mole of injectant',
    timeY: 1785, molY: 2105, ylx: 12,
    kd: [[102, 1961, 'Kd1=0.013\u00b10.001\u03bcM', 14.5, 'start'], [102, 1984, 'Kd2=0.41\u00b10.05\u03bcM', 14.5, 'start']] }
];

panels.forEach(drawPanel);
</script>
</body>
</html>
